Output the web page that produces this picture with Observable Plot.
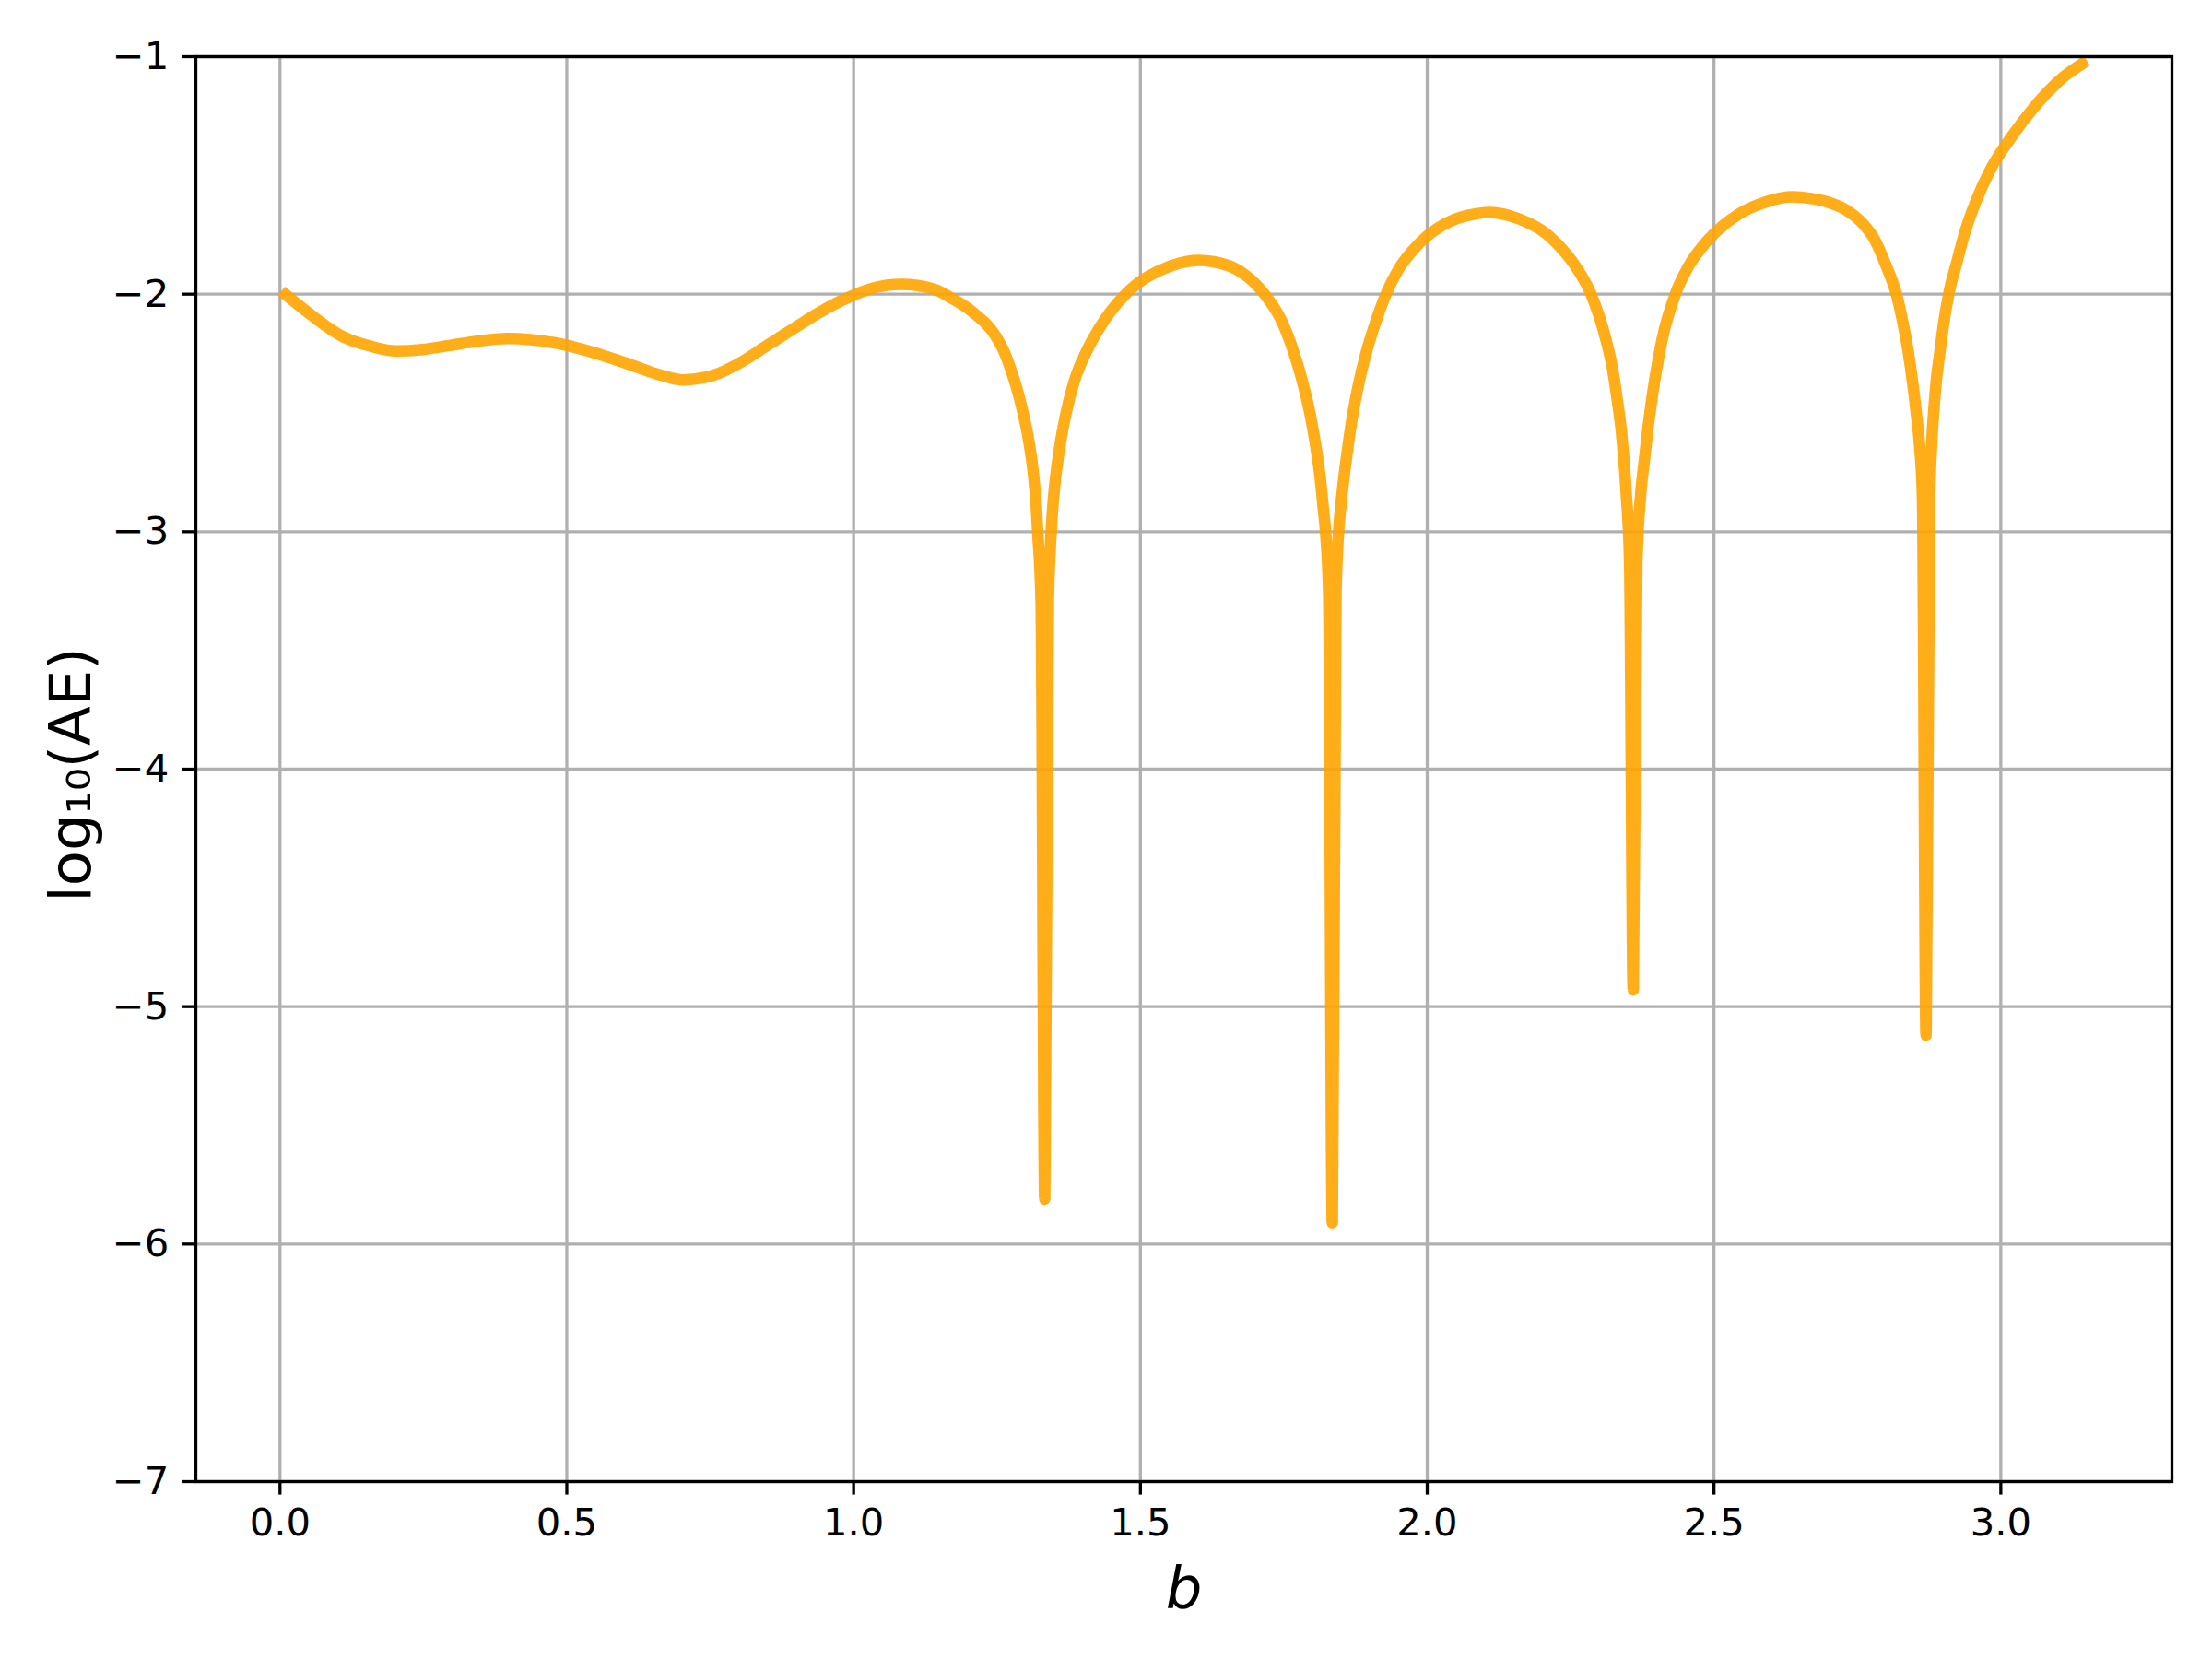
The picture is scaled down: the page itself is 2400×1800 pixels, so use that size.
<!DOCTYPE html>
<html>
<head>
<meta charset="utf-8">
<script src="https://cdn.jsdelivr.net/npm/d3@7"></script>
<script src="https://cdn.jsdelivr.net/npm/@observablehq/plot@0.6"></script>
<style>
  html, body { margin: 0; padding: 0; background: #ffffff; }
  #chart svg { display: block; }
</style>
</head>
<body>
<div id="chart"></div>
<script>
// ---- data ----
const b = [
  0.010, 0.055, 0.110, 0.156, 0.202, 0.248, 0.295, 0.341, 0.396, 0.479,
  0.571, 0.617, 0.664, 0.701, 0.756, 0.802, 0.848, 0.894, 0.941, 0.987,
  1.033, 1.083, 1.1403, 1.173, 1.2073, 1.2486, 1.262, 1.2738, 1.2925, 1.3059,
  1.3134, 1.3182, 1.3209, 1.3269, 1.3332, 1.3395, 1.3444, 1.3476, 1.3530, 1.3605,
  1.3707, 1.3846, 1.4066, 1.4377, 1.4832, 1.5476, 1.6012, 1.6548, 1.6815, 1.7000,
  1.7170, 1.7479, 1.7682, 1.7838, 1.7961, 1.8057, 1.8132, 1.8186, 1.8229, 1.8283,
  1.8346, 1.8409, 1.8454, 1.8492, 1.8550, 1.8620, 1.8701, 1.8803, 1.8931, 1.9097,
  1.9279, 1.9500, 1.9750, 2.0000, 2.0400, 2.0836, 2.108, 2.160, 2.2062, 2.2279,
  2.2580, 2.2858, 2.3110, 2.3232, 2.3313, 2.3383, 2.3431, 2.3468, 2.3529, 2.3592,
  2.3655, 2.3725, 2.3785, 2.3844, 2.3914, 2.3999, 2.4100, 2.4325, 2.4550, 2.4831,
  2.5446, 2.5900, 2.6368, 2.6700, 2.6984, 2.7300, 2.7583, 2.7800, 2.7984, 2.8182,
  2.8294, 2.8391, 2.8467, 2.8531, 2.8585, 2.8634, 2.8697, 2.8760, 2.8793, 2.8826,
  2.8869, 2.8935, 2.9005, 2.9090, 2.9237, 2.9382, 2.9575, 2.9822, 3.0164, 3.0572,
  3.1091, 3.1416
];
const logAE = [
  -2.002, -2.089, -2.179, -2.218, -2.239, -2.233, -2.216, -2.199, -2.187, -2.205,
  -2.264, -2.302, -2.341, -2.361, -2.341, -2.289, -2.218, -2.147, -2.076, -2.018,
  -1.975, -1.959, -1.979, -2.020, -2.075, -2.180, -2.240, -2.315, -2.470, -2.626,
  -2.755, -2.885, -3.001, -3.300, -5.810, -3.300, -3.001, -2.885, -2.755, -2.626,
  -2.497, -2.367, -2.238, -2.108, -1.979, -1.886, -1.858, -1.881, -1.917, -1.955,
  -2.002, -2.121, -2.251, -2.380, -2.509, -2.639, -2.768, -2.897, -3.003, -3.270,
  -5.910, -3.270, -3.003, -2.897, -2.768, -2.639, -2.509, -2.380, -2.251, -2.121,
  -2.002, -1.895, -1.815, -1.755, -1.693, -1.662, -1.656, -1.683, -1.743, -1.791,
  -1.880, -2.001, -2.186, -2.315, -2.445, -2.574, -2.703, -2.833, -3.130, -4.930,
  -3.130, -2.833, -2.703, -2.574, -2.445, -2.315, -2.186, -2.001, -1.885, -1.790,
  -1.661, -1.612, -1.590, -1.597, -1.612, -1.645, -1.700, -1.770, -1.870, -2.002,
  -2.121, -2.250, -2.380, -2.509, -2.639, -2.850, -5.120, -2.850, -2.639, -2.509,
  -2.380, -2.250, -2.121, -2.002, -1.862, -1.733, -1.604, -1.474, -1.345, -1.215,
  -1.086, -1.030
];
const xTicks = [0.0, 0.5, 1.0, 1.5, 2.0, 2.5, 3.0];
const yTicks = [-7, -6, -5, -4, -3, -2, -1];
const xLabel = "b";
const yLabel = "log₁₀(AE)";

const data = b.map((v, i) => ({b: v, y: logAE[i]}));

const tickFont = 41.7;
const chart = Plot.plot({
  width: 2400,
  height: 1800,
  marginLeft: 212,
  marginRight: 44,
  marginTop: 61,
  marginBottom: 193,
  style: {fontFamily: "'DejaVu Sans', sans-serif", background: "#ffffff", color: "#000000"},
  x: {domain: [-0.1467, 3.2983]},
  y: {domain: [-7, -1]},
  marks: [
    Plot.gridX(xTicks, {stroke: "#b0b0b0", strokeOpacity: 1, strokeWidth: 3.3}),
    Plot.gridY(yTicks, {stroke: "#b0b0b0", strokeOpacity: 1, strokeWidth: 3.3}),
    Plot.line(data, {
      x: "b", y: "y",
      stroke: "orange", strokeOpacity: 0.9, strokeWidth: 12.5,
      curve: "monotone-x", strokeLinecap: "square", strokeLinejoin: "round"
    }),
    Plot.frame({stroke: "#000000", strokeWidth: 3.3}),
    Plot.axisX(xTicks, {
      tickSize: 14.6, tickPadding: 14.6, fontSize: tickFont, strokeWidth: 3.3,
      tickFormat: d3.format(".1f"), label: null
    }),
    Plot.axisY(yTicks, {
      tickSize: 14.6, tickPadding: 14.6, fontSize: tickFont, strokeWidth: 3.3,
      tickFormat: d => (d < 0 ? "\u2212" + Math.abs(d) : String(d)), label: null
    }),
    Plot.text([xLabel], {
      text: d => d, frameAnchor: "bottom", textAnchor: "middle", lineAnchor: "bottom",
      dy: 136, fontSize: 62.5, fontStyle: "italic"
    }),
    Plot.text([yLabel], {
      text: d => d, frameAnchor: "left", textAnchor: "middle", lineAnchor: "bottom",
      rotate: -90, dx: -115, dy: 6, fontSize: 62.5
    })
  ]
});
document.getElementById("chart").appendChild(chart);
</script>
</body>
</html>
